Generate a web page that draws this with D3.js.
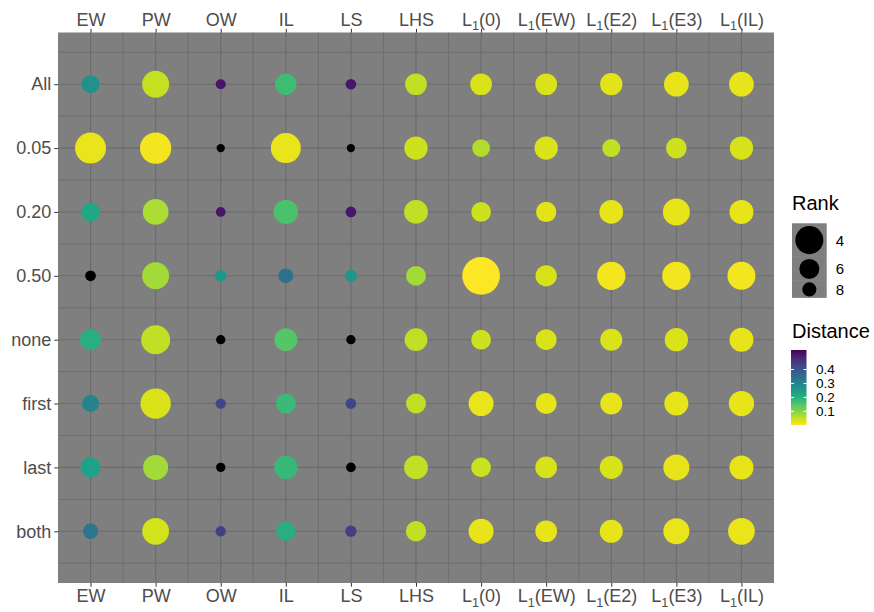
<!DOCTYPE html>
<html>
<head>
<meta charset="utf-8">
<script src="https://cdn.jsdelivr.net/npm/d3@7"></script>
<style>
  body { margin: 0; background: #fff; }
  svg { display: block; font-family: "Liberation Sans", Arial, sans-serif; }
</style>
</head>
<body>
<div id="main-container"></div>
<script>
// Categories
const methods = ['EW', 'PW', 'OW', 'IL', 'LS', 'LHS', 'L1(0)', 'L1(EW)', 'L1(E2)', 'L1(E3)', 'L1(IL)'];
const settings = ['All', '0.05', '0.20', '0.50', 'none', 'first', 'last', 'both'];

// Average rank per setting (one value per method)
const rankAll   = [6.63, 4.21, 9.46, 5.61, 9.23, 5.50, 5.50, 5.50, 5.34, 4.72, 4.72];
const rank005   = [3.47, 3.42, 10.0, 3.64, 10.0, 5.07, 6.73, 5.07, 6.63, 5.79, 5.07];
const rank020   = [6.31, 4.49, 9.56, 4.82, 9.23, 4.97, 6.09, 5.91, 4.97, 4.21, 4.89];
const rank050   = [9.23, 4.21, 8.87, 7.78, 8.76, 6.09, 2.56, 5.61, 3.95, 3.95, 4.01];
const rankNone  = [5.70, 3.82, 9.69, 5.15, 9.69, 5.21, 6.09, 5.70, 5.42, 5.07, 4.89];
const rankFirst = [6.97, 3.58, 9.36, 6.00, 9.23, 6.00, 4.65, 5.70, 5.42, 4.89, 4.58];
const rankLast  = [6.00, 4.65, 9.69, 5.07, 9.56, 4.97, 6.09, 5.50, 5.15, 4.42, 4.89];
const rankBoth  = [7.57, 4.27, 9.36, 6.21, 9.01, 5.91, 4.65, 5.50, 5.15, 4.42, 4.27];

// Distance per setting (null = missing, drawn black)
const distAll   = [0.270, 0.049, 0.510, 0.170, 0.510, 0.054, 0.032, 0.032, 0.027, 0.022, 0.022];
const dist005   = [0.019, 0.011, null,  0.019, null,  0.043, 0.065, 0.032, 0.051, 0.043, 0.035];
const dist020   = [0.220, 0.070, 0.510, 0.157, 0.510, 0.054, 0.043, 0.027, 0.022, 0.022, 0.022];
const dist050   = [null,  0.076, 0.254, 0.340, 0.260, 0.076, 0.002, 0.035, 0.011, 0.011, 0.011];
const distNone  = [0.200, 0.054, null,  0.146, null,  0.054, 0.043, 0.032, 0.032, 0.032, 0.022];
const distFirst = [0.300, 0.032, 0.430, 0.175, 0.430, 0.054, 0.019, 0.022, 0.022, 0.022, 0.022];
const distLast  = [0.230, 0.076, null,  0.180, null,  0.054, 0.046, 0.035, 0.035, 0.022, 0.022];
const distBoth  = [0.330, 0.038, 0.440, 0.200, 0.440, 0.051, 0.022, 0.022, 0.022, 0.019, 0.019];

const ranks = [rankAll, rank005, rank020, rank050, rankNone, rankFirst, rankLast, rankBoth];
const dists = [distAll, dist005, dist020, dist050, distNone, distFirst, distLast, distBoth];

// Legend breaks and limits
const rankBreaks = [4, 6, 8];
const rankLimits = [1, 11];
const distBreaks = [0.1, 0.2, 0.3, 0.4];
const distLimits = [0.002, 0.54];

const WIDTH = 874;
const HEIGHT = 612;
const PANEL = { left: 58, right: 774, top: 32.5, bottom: 583 };

const SVG = d3.select('#main-container').append('svg')
    .attr('width', WIDTH)
    .attr('height', HEIGHT);

// Scales
const x = d3.scaleLinear().domain([0.5, methods.length + 0.5]).range([PANEL.left, PANEL.right]);
const y = d3.scaleLinear().domain([0.19, settings.length + 0.81]).range([PANEL.top, PANEL.bottom]);

const invRank = d3.scaleLinear().domain([1 / rankLimits[1], 1 / rankLimits[0]]).range([0, 1]);
const diam = d3.scaleLinear().domain([0, 1]).range([2.1, 64.1]);
const radius = r => diam(Math.sqrt(invRank(1 / r))) / 2;

const color = d3.scaleSequential(d3.interpolateViridis).domain([distLimits[1], distLimits[0]]);

const cells = [];
settings.forEach((s, i) => {
    methods.forEach((m, j) => {
        cells.push({ setting: s, method: m, row: i + 1, col: j + 1, rank: ranks[i][j], dist: dists[i][j] });
    });
});

// Panel
SVG.append('rect')
    .attr('x', PANEL.left).attr('y', PANEL.top)
    .attr('width', PANEL.right - PANEL.left).attr('height', PANEL.bottom - PANEL.top)
    .attr('fill', '#7f7f7f');

const grid = SVG.append('g').attr('stroke', '#6b6b6b');
const xMinor = d3.range(1.5, methods.length, 1);
const yMinor = d3.range(0.5, settings.length + 0.6, 1);
grid.selectAll('.xminor').data(xMinor).enter().append('line')
    .attr('x1', d => x(d)).attr('x2', d => x(d))
    .attr('y1', PANEL.top).attr('y2', PANEL.bottom)
    .attr('stroke-width', 0.8);
grid.selectAll('.yminor').data(yMinor).enter().append('line')
    .attr('y1', d => y(d)).attr('y2', d => y(d))
    .attr('x1', PANEL.left).attr('x2', PANEL.right)
    .attr('stroke-width', 0.8);
grid.selectAll('.xmajor').data(methods).enter().append('line')
    .attr('x1', (d, i) => x(i + 1)).attr('x2', (d, i) => x(i + 1))
    .attr('y1', PANEL.top).attr('y2', PANEL.bottom)
    .attr('stroke-width', 1.1);
grid.selectAll('.ymajor').data(settings).enter().append('line')
    .attr('y1', (d, i) => y(i + 1)).attr('y2', (d, i) => y(i + 1))
    .attr('x1', PANEL.left).attr('x2', PANEL.right)
    .attr('stroke-width', 1.1);

// Points
SVG.append('g')
    .selectAll('circle')
    .data(cells)
    .enter()
    .append('circle')
    .attr('cx', d => x(d.col))
    .attr('cy', d => y(d.row))
    .attr('r', d => radius(d.rank))
    .attr('fill', d => d.dist == null ? '#000' : color(d.dist));

// Axes
const AXIS_FONT = 18;
const tickIdx = d3.range(1, methods.length + 1);

function methodLabel(sel) {
    sel.each(function (d) {
        const t = d3.select(this);
        const label = methods[d - 1];
        t.text(null);
        if (label.startsWith('L1')) {
            t.append('tspan').text('L');
            t.append('tspan').attr('font-size', AXIS_FONT * 0.7).attr('dy', 4.5).text('1');
            t.append('tspan').attr('dy', -4.5).text(label.slice(2));
        } else {
            t.text(label);
        }
    });
}

function styleAxis(g) {
    g.select('.domain').remove();
    g.selectAll('.tick line').attr('stroke', '#333333');
    g.selectAll('.tick text')
        .attr('fill', '#4d4d4d')
        .style('font-size', AXIS_FONT + 'px')
        .style('font-family', '"Liberation Sans", Arial, sans-serif');
}

const xTop = d3.axisTop(x).tickValues(tickIdx).tickSize(3.7).tickPadding(3);
const xBottom = d3.axisBottom(x).tickValues(tickIdx).tickSize(3.7).tickPadding(3);
const yLeft = d3.axisLeft(y).tickValues(d3.range(1, settings.length + 1))
    .tickFormat(d => settings[d - 1]).tickSize(3.7).tickPadding(3);

SVG.append('g').attr('transform', `translate(0,${PANEL.top})`).call(xTop).call(styleAxis)
    .selectAll('.tick text').call(methodLabel);
SVG.append('g').attr('transform', `translate(0,${PANEL.bottom})`).call(xBottom).call(styleAxis)
    .selectAll('.tick text').call(methodLabel);
SVG.append('g').attr('transform', `translate(${PANEL.left},0)`).call(yLeft).call(styleAxis);

// Legend: Rank
const LEG_X = 792;
const rankLegend = SVG.append('g');
rankLegend.append('text')
    .attr('x', LEG_X).attr('y', 210)
    .style('font-size', '20px')
    .attr('fill', '#000')
    .text('Rank');

const keyW = 34.7;
let keyY = 223.3;
rankBreaks.forEach(r => {
    const h = radius(r) * 2 * 1.2;
    rankLegend.append('rect')
        .attr('x', LEG_X).attr('y', keyY).attr('width', keyW).attr('height', h)
        .attr('fill', '#7f7f7f');
    rankLegend.append('circle')
        .attr('cx', LEG_X + keyW / 2).attr('cy', keyY + h / 2)
        .attr('r', radius(r)).attr('fill', '#000');
    rankLegend.append('text')
        .attr('x', LEG_X + keyW + 9).attr('y', keyY + h / 2)
        .attr('dy', '0.36em')
        .style('font-size', '15px')
        .text(r);
    keyY += h;
});

// Legend: Distance
const distLegend = SVG.append('g');
distLegend.append('text')
    .attr('x', LEG_X).attr('y', 337.5)
    .style('font-size', '20px')
    .attr('fill', '#000')
    .text('Distance');

const barX = 791, barW = 15.5;
const barY = d3.scaleLinear().domain(distLimits).range([425, 350]);
const grad = SVG.append('defs').append('linearGradient')
    .attr('id', 'distGrad').attr('x1', 0).attr('x2', 0).attr('y1', 1).attr('y2', 0);
d3.range(0, 1.0001, 0.05).forEach(t => {
    grad.append('stop')
        .attr('offset', t)
        .attr('stop-color', color(distLimits[0] + t * (distLimits[1] - distLimits[0])));
});
distLegend.append('rect')
    .attr('x', barX).attr('y', barY(distLimits[1]))
    .attr('width', barW).attr('height', barY(distLimits[0]) - barY(distLimits[1]))
    .attr('fill', 'url(#distGrad)');
distBreaks.forEach(b => {
    distLegend.append('line')
        .attr('x1', barX).attr('x2', barX + 3)
        .attr('y1', barY(b)).attr('y2', barY(b))
        .attr('stroke', '#fff').attr('stroke-width', 1);
    distLegend.append('line')
        .attr('x1', barX + barW - 3).attr('x2', barX + barW)
        .attr('y1', barY(b)).attr('y2', barY(b))
        .attr('stroke', '#fff').attr('stroke-width', 1);
    distLegend.append('text')
        .attr('x', 816).attr('y', barY(b)).attr('dy', '0.35em')
        .style('font-size', '13.5px')
        .text(b.toFixed(1));
});
</script>
</body>
</html>
